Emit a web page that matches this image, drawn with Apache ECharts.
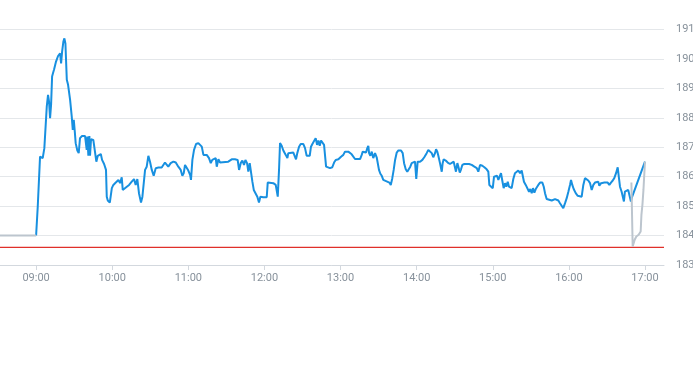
<!DOCTYPE html>
<html><head><meta charset="utf-8">
<script src="https://cdn.jsdelivr.net/npm/echarts@6/dist/echarts.min.js"></script>
<style>html,body{margin:0;padding:0;background:#fff}#c{width:693px;height:365px}</style>
</head><body><div id="c"></div>
<script>
// minutes after 09:00
const xTickMinutes = [0, 60, 120, 180, 240, 300, 360, 420, 480];
const yTicks = [183, 184, 185, 186, 187, 188, 189, 190, 191];
const referenceLevel = 183.60;

const blueMinutes = [0,1.3,3.1,4.1,5.2,6.5,7.6,8.4,9.4,10.2,11.0,11.8,12.6,13.4,14.1,15.7,17.3,18.9,19.7,20.5,21.5,22.3,23.1,24.2,25.2,26.8,28.1,28.9,29.7,30.5,31.2,32.5,33.6,34.6,36.2,38.6,39.9,40.4,41.2,42.0,42.5,43.3,45.1,46.5,47.5,48.6,49.6,51.0,52.0,53.6,55.1,55.7,56.5,58.1,59.7,60.9,62.8,64.9,66.2,67.5,68.3,69.6,71.5,73.3,75.4,77.2,78.5,79.8,81.1,82.7,83.8,84.9,85.9,87.2,88.5,89.8,91.2,92.7,94.3,96.4,99.0,100.3,101.6,103.0,104.2,106.1,108.2,110.1,112.1,114.0,115.3,116.4,117.4,118.7,120.0,121.4,122.1,123.2,124.5,126.1,127.9,129.2,130.6,131.9,133.2,134.5,136.3,137.7,138.9,140.3,141.6,142.4,143.7,145.0,146.3,151.5,154.2,156.8,158.9,160.0,161.3,162.6,163.9,165.0,166.3,167.3,168.4,169.4,170.5,171.6,173.1,174.4,175.7,176.8,177.9,179.1,181.8,182.6,187.0,188.9,189.9,190.5,191.5,192.3,193.6,194.9,196.8,198.1,198.8,202.8,204.1,204.9,205.9,207.3,208.6,210.7,212.0,213.3,215.7,216.7,217.8,219.3,220.4,221.5,222.5,223.6,224.6,226.0,227.0,228.6,229.4,231.7,233.5,234.9,236.2,238.3,240.4,242.2,243.5,244.9,246.1,247.5,248.8,250.1,251.4,255.4,256.7,257.5,258.8,260.1,261.1,261.9,262.5,263.5,264.6,265.8,267.2,268.5,269.3,270.3,271.4,272.5,273.7,275.1,278.5,279.6,280.8,281.9,283.0,284.3,285.6,287.7,289.0,290.1,291.4,292.6,294.0,295.0,296.1,298.7,299.7,300.8,302.7,304.5,306.0,307.9,309.2,310.5,311.9,313.1,314.5,315.3,316.3,317.1,318.4,319.8,320.5,321.3,322.9,324.5,326.3,327.7,329.2,330.3,331.0,332.1,332.9,334.0,335.0,336.0,337.6,341.3,343.4,345.5,347.4,348.6,350.0,351.8,353.4,355.2,356.5,357.3,358.6,360.0,361.0,362.3,363.4,364.4,365.7,366.5,367.5,368.6,369.7,370.7,371.8,372.8,373.6,374.9,376.2,377.5,378.9,380.1,381.5,382.8,383.6,384.6,386.0,387.2,388.6,389.6,390.7,391.7,392.8,393.9,394.9,395.9,397.3,399.1,400.2,401.2,402.5,403.8,406.5,409.1,410.4,411.7,413.0,414.4,415.6,417.0,418.3,419.6,420.9,421.7,422.7,423.8,425.4,427.0,430.1,431.4,432.7,434.1,435.3,436.7,438.0,439.3,440.6,442.0,443.2,444.0,445.4,448.0,449.3,450.6,451.9,453.2,454.6,455.8,457.2,458.5,459.5,460.3,461.6,462.9,463.4,464.2,465.5,466.8,468.1,468.9,469.5,480];
const blueValues = [184.0,184.99,186.68,186.74,186.63,186.97,187.02,188.38,188.78,188.55,187.99,188.44,189.40,189.53,189.63,189.91,190.10,190.19,189.85,190.25,190.59,190.70,190.53,189.29,189.12,188.61,188.04,187.59,187.93,187.53,187.14,186.89,186.80,187.31,187.38,187.38,186.91,187.36,186.71,187.38,186.71,187.27,187.25,187.19,186.51,186.71,186.66,186.77,186.57,186.43,186.23,185.32,185.19,185.12,185.61,185.72,185.80,185.89,185.78,185.98,185.55,185.58,185.66,185.72,185.83,185.92,185.72,185.92,185.44,185.12,185.32,185.30,186.23,186.34,186.71,186.51,186.23,186.03,186.29,186.31,186.31,186.34,186.48,186.48,186.34,186.46,186.51,186.48,186.34,186.23,186.03,186.12,186.40,186.34,186.21,186.06,185.89,186.57,186.91,187.11,187.14,187.19,187.02,186.74,186.68,186.74,186.63,186.46,186.57,186.51,186.63,186.34,186.59,186.48,186.51,186.51,186.59,186.59,186.57,186.23,186.46,186.55,186.40,186.57,186.46,186.17,186.46,186.40,185.83,185.55,185.49,185.32,185.12,185.32,185.38,185.30,185.30,185.80,185.78,185.72,185.69,185.32,186.23,187.14,187.05,186.89,186.74,186.63,186.80,186.82,186.77,186.59,186.80,187.02,187.11,187.11,186.97,186.71,186.71,187.02,187.11,187.11,187.31,187.08,187.23,187.05,187.23,187.19,187.08,186.34,186.29,186.29,186.32,186.48,186.57,186.59,186.68,186.74,186.85,186.91,186.85,186.80,186.76,186.71,186.60,186.60,186.74,186.85,186.91,186.82,186.97,187.05,186.80,186.71,186.85,186.63,186.80,186.66,186.71,186.23,186.10,186.03,185.89,185.83,185.80,185.72,185.95,186.23,186.57,186.82,186.89,186.89,186.80,186.46,186.25,186.17,186.14,186.34,186.46,186.51,185.92,186.51,186.51,186.57,186.66,186.80,186.91,186.85,186.80,186.66,186.80,186.93,186.85,186.71,186.46,186.17,186.46,186.59,186.55,186.48,186.43,186.48,186.51,186.48,186.17,186.46,186.34,186.14,186.25,186.40,186.43,186.43,186.40,186.34,186.29,186.17,186.40,186.37,186.32,186.25,186.17,185.72,185.66,185.61,186.00,185.95,186.03,185.89,185.95,186.12,185.87,185.61,185.78,185.66,185.83,185.66,185.72,185.61,185.92,186.12,186.17,186.21,186.12,186.21,186.21,185.83,185.72,185.66,185.49,185.58,185.44,185.61,185.46,185.58,185.55,185.72,185.80,185.80,185.66,185.44,185.24,185.19,185.19,185.24,185.27,185.19,185.10,185.04,184.93,185.10,185.27,185.49,185.72,185.89,185.72,185.58,185.44,185.35,185.32,185.72,185.95,186.00,185.87,185.78,185.55,185.72,185.80,185.76,185.83,185.69,185.78,185.80,185.76,185.80,185.72,185.80,185.87,185.95,186.12,186.32,185.95,185.66,185.49,185.46,185.16,185.49,185.55,185.55,185.49,185.16,185.27,186.51];

const greyPreMinutes = [-60, 0];
const greyPreValues = [184.0, 184.0];
const greyPostMinutes = [469.3, 470.3, 471.9, 473.2, 475.0, 475.8, 476.6, 477.2, 478.0, 478.8, 480];
const greyPostValues = [185.80, 183.63, 183.86, 183.97, 184.03, 184.08, 184.14, 184.70, 185.05, 185.55, 186.51];

function pairs(xs, ys) { return xs.map((x, i) => [x, ys[i]]); }
const greyData = pairs(greyPreMinutes, greyPreValues).concat([[null, null]]).concat(pairs(greyPostMinutes, greyPostValues));

function fmt(m) {
  const t = 9 * 60 + m;
  const h = Math.floor(t / 60), mm = Math.round(t % 60);
  return String(h).padStart(2, '0') + ':' + String(mm).padStart(2, '0');
}

const chart = echarts.init(document.getElementById('c'), null, { renderer: 'canvas' });
chart.setOption({
  animation: false,
  grid: { left: -40, right: 29, top: 29.5, bottom: 100, containLabel: false, outerBoundsMode: 'none' },
  xAxis: {
    type: 'value', min: -60, max: 495,
    splitLine: { show: false },
    axisLine: { show: true, lineStyle: { color: '#d3d8de', width: 1 } },
    axisTick: { show: true, length: 5, customValues: xTickMinutes, lineStyle: { color: '#d3d8de' } },
    axisLabel: { customValues: xTickMinutes, formatter: v => fmt(v), color: '#87919b', fontSize: 11, fontFamily: 'Roboto', margin: 8 }
  },
  yAxis: {
    type: 'value', position: 'right', min: 183, max: 191, interval: 1,
    axisLine: { show: false }, axisTick: { show: false },
    splitLine: { show: true, lineStyle: { color: '#e4e7ea', width: 1 } },
    axisLabel: { color: '#87919b', fontSize: 11, fontFamily: 'Roboto', margin: 12, formatter: v => String(v) }
  },
  series: [
    {
      type: 'line', data: [[-60, referenceLevel], [495, referenceLevel]], showSymbol: false, symbol: 'none',
      lineStyle: { color: '#e0302a', width: 1.3 }, z: 2, silent: true
    },
    {
      type: 'line', data: pairs(blueMinutes, blueValues), showSymbol: false, symbol: 'none',
      lineStyle: { color: '#1890e0', width: 2 }, z: 3
    },
    {
      type: 'line', data: greyData, showSymbol: false, symbol: 'none', connectNulls: false,
      lineStyle: { color: '#bcc5ce', width: 2 }, z: 4
    }
  ]
});
</script></body></html>
